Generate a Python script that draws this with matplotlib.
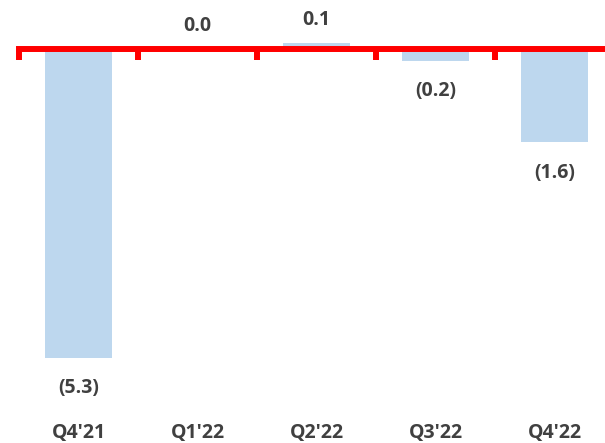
import matplotlib
matplotlib.use("Agg")
import matplotlib.pyplot as plt
import matplotlib.transforms as mtransforms

quarters = ["Q4'21", "Q1'22", "Q2'22", "Q3'22", "Q4'22"]
values = [-5.3, 0.0, 0.1, -0.2, -1.6]

bar_color = "#BDD7EE"
text_color = "#404040"
axis_red = "#FF0000"

plt.rcParams['font.family'] = ['Open Sans', 'DejaVu Sans']

fig = plt.figure(figsize=(6.05, 4.43), dpi=100)
ax = fig.add_axes([19 / 605, 0, 586 / 605, 1])

x = list(range(len(quarters)))
ax.bar(x, values, width=0.57, color=bar_color, zorder=1)

ax.set_xlim(-0.5, 4.424)
ax.set_ylim(-6.76, 0.84)

for s in ['top', 'right', 'left']:
    ax.spines[s].set_visible(False)
ax.spines['bottom'].set_position(('data', 0))
ax.spines['bottom'].set_color(axis_red)
ax.spines['bottom'].set_linewidth(4.3)
ax.spines['bottom'].set_zorder(3)
ax.set_yticks([])
ax.set_xticks([i - 0.5 for i in range(len(quarters))])
ax.tick_params(axis='x', direction='out', length=8, width=4.3,
               color=axis_red, labelbottom=False)

for xi, v in zip(x, values):
    label = f"{v:.1f}" if v >= 0 else f"({abs(v):.1f})"
    off = 16.5 if v >= 0 else -22
    ax.annotate(label, (xi, v), xytext=(0, off), textcoords='offset points',
                ha='center', va='center', fontsize=14, fontweight='bold',
                color=text_color)

trans = mtransforms.blended_transform_factory(ax.transData, ax.transAxes)
for xi, q in zip(x, quarters):
    ax.text(xi, 0.022, q, transform=trans, ha='center', va='center',
            fontsize=14, fontweight='bold', color=text_color)

fig.savefig("out.png", dpi=100)
